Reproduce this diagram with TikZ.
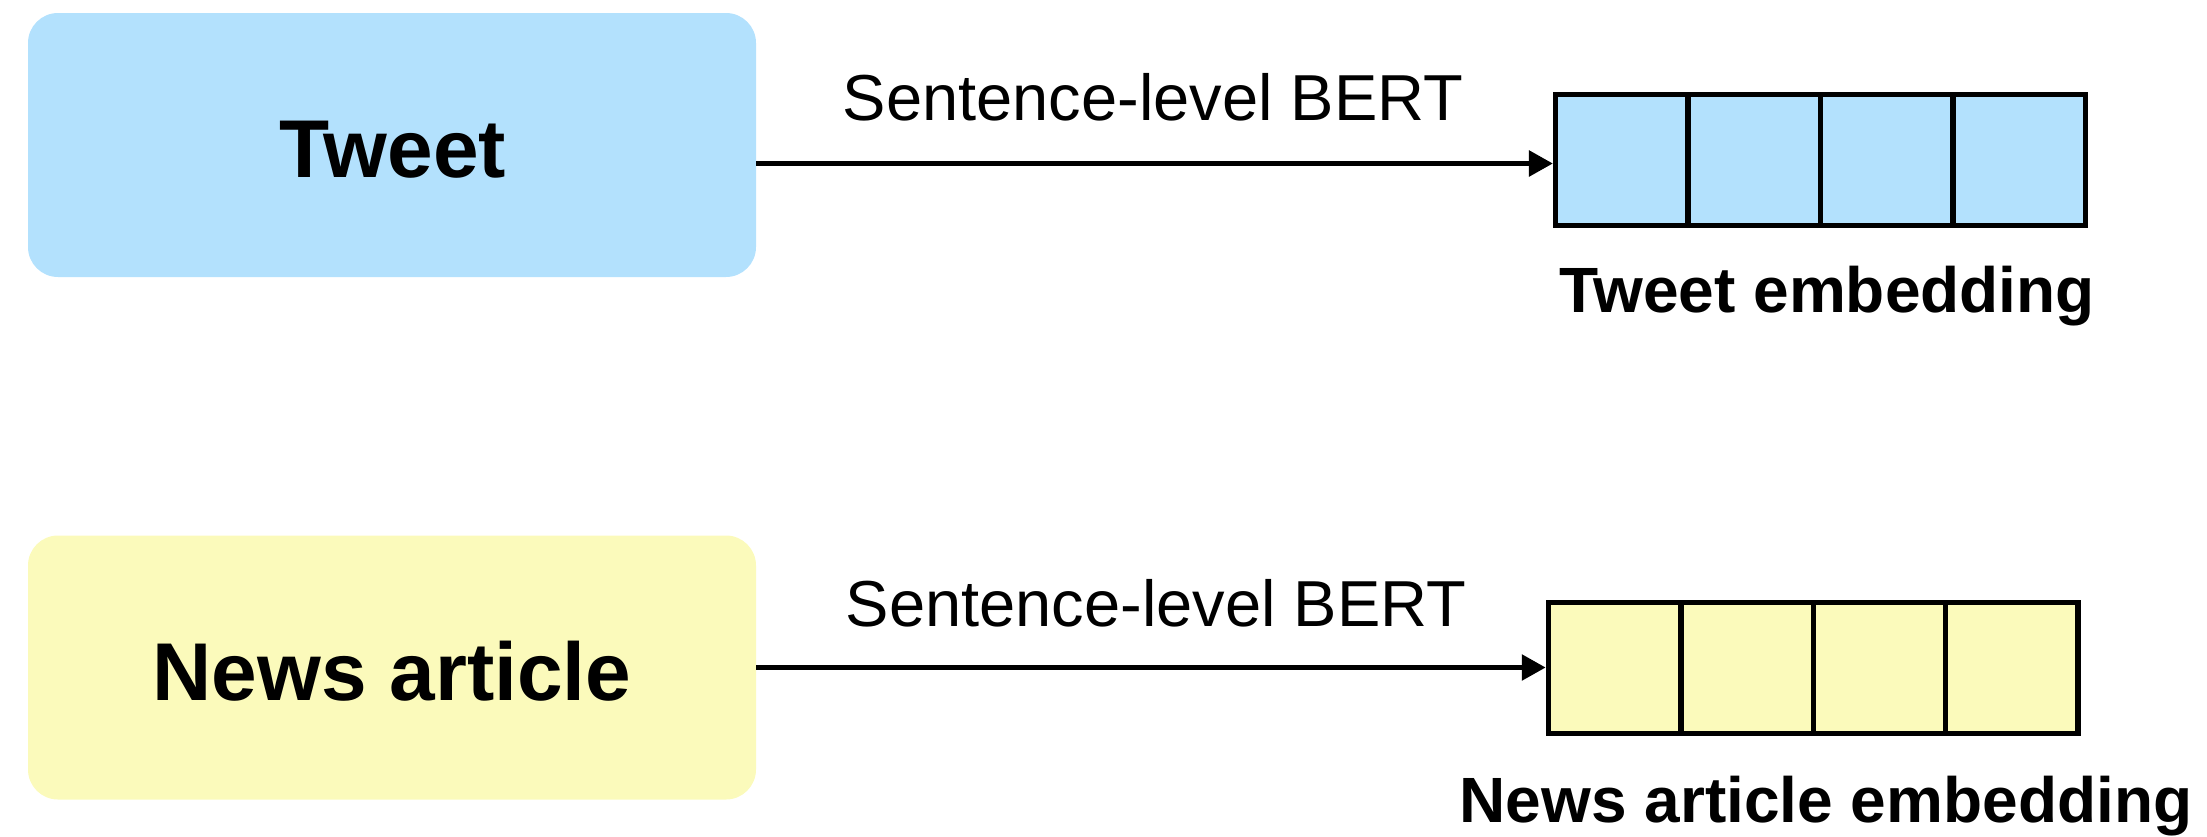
\documentclass[tikz,border=0pt]{standalone}
\usepackage{fontspec}
\setmainfont{Liberation Sans}
\usetikzlibrary{arrows.meta}
\definecolor{tweetblue}{RGB}{179,225,253}
\definecolor{newsyellow}{RGB}{251,250,187}
\tikzset{
  srcbox/.style={rounded corners=30pt, minimum width=728pt, minimum height=264pt, inner sep=0pt},
  cell/.style={draw=black, line width=5.5pt, minimum width=132.4pt, minimum height=131pt, inner sep=0pt},
  arr/.style={line width=5.5pt, -{Triangle[length=24pt,width=25pt]}},
  boxtext/.style={font=\fontsize{82}{90}\selectfont\bfseries, anchor=base},
  bert/.style={font=\fontsize{65}{72}\selectfont, anchor=base},
  embtext/.style={font=\fontsize{64}{70}\selectfont\bfseries, anchor=base},
}
\begin{document}
\begin{tikzpicture}[x=1pt, y=-1pt]
  \useasboundingbox (0,0) rectangle (2207,836);

  % input boxes
  \node[srcbox, fill=tweetblue] (tweet) at (392,145) {};
  \node[boxtext] (tweetlbl) at (393,177) {Tweet};
  \node[srcbox, fill=newsyellow] (news) at (392,667.5) {};
  \node[boxtext] (newslbl) at (392,700) {News article};

  % tweet embedding vector
  \node[cell, fill=tweetblue] (t1) at (1621.9,160) {};
  \node[cell, fill=tweetblue] (t2) at (1754.3,160) {};
  \node[cell, fill=tweetblue] (t3) at (1886.7,160) {};
  \node[cell, fill=tweetblue] (t4) at (2019.1,160) {};
  \node[embtext] (temb) at (1827,312) {Tweet embedding};

  % news article embedding vector
  \node[cell, fill=newsyellow] (n1) at (1614.7,668) {};
  \node[cell, fill=newsyellow] (n2) at (1747.1,668) {};
  \node[cell, fill=newsyellow] (n3) at (1879.5,668) {};
  \node[cell, fill=newsyellow] (n4) at (2011.9,668) {};
  \node[embtext] (nemb) at (1826,822) {News article embedding};

  % encoder arrows
  \draw[arr] ([yshift=-3.5pt]t1.west -| tweet.east) -- ([yshift=-3.5pt]t1.west);
  \node[bert] (bert1) at (1153,120) {Sentence-level BERT};
  \draw[arr] ([yshift=0.5pt]n1.west -| news.east) -- ([yshift=0.5pt]n1.west);
  \node[bert] (bert2) at (1156,626) {Sentence-level BERT};
\end{tikzpicture}
\end{document}
